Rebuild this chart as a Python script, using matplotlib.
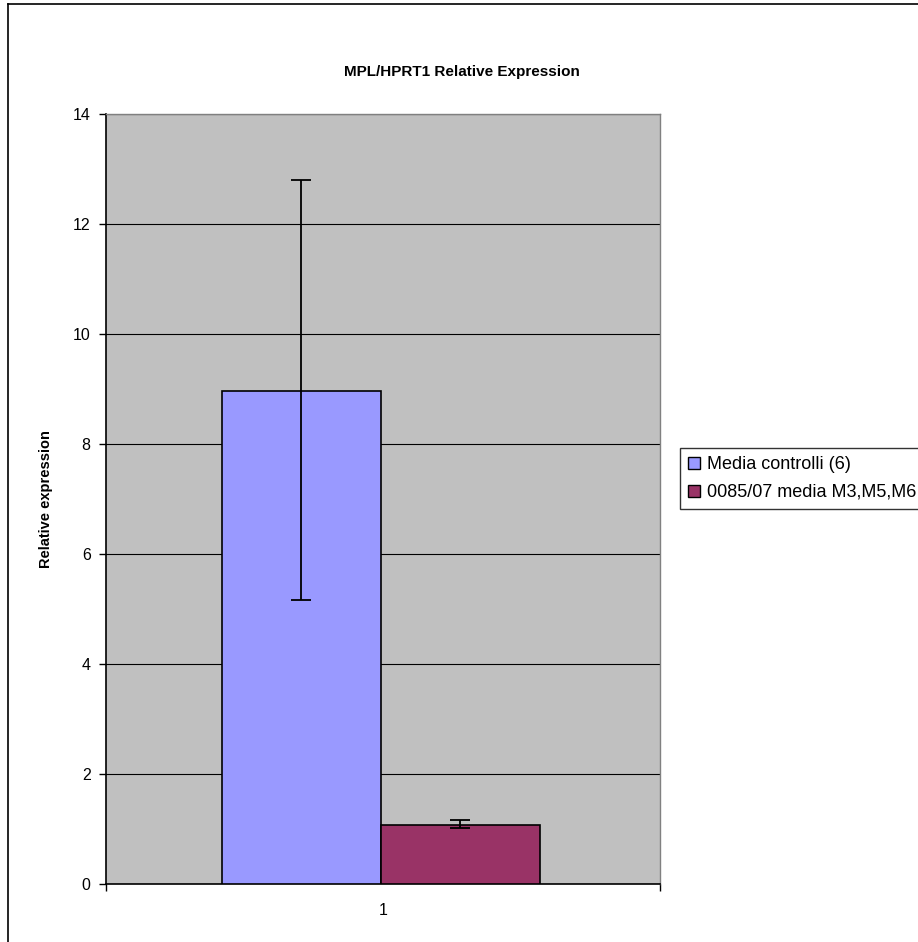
import numpy as np
import matplotlib.pyplot as plt
from matplotlib.patches import Patch
from matplotlib.lines import Line2D

plt.rcParams['font.family'] = ['Liberation Sans', 'DejaVu Sans']

# data
categories = ['1']
series_names = ['Media controlli (6)', '0085/07 media M3,M5,M6']
values = [8.97, 1.08]
err_low = [5.16, 1.01]
err_high = [12.80, 1.16]
colors = ['#9999FF', '#993366']

W, H = 918, 942
fig = plt.figure(figsize=(W / 100, H / 100), dpi=100)

# plot area in pixel coords
left, right, top, bottom = 106, 660, 114, 884
ax = fig.add_axes([left / W, 1 - bottom / H, (right - left) / W, (bottom - top) / H])
ax.set_facecolor('#C0C0C0')

width = 0.2875
shift = -0.004
offsets = [-width / 2 + shift, width / 2 + shift]
x = np.arange(1, len(categories) + 1)
for i in range(len(series_names)):
    v = values[i]
    yerr = [[v - err_low[i]], [err_high[i] - v]]
    ax.bar(x + offsets[i], [v], width, color=colors[i], edgecolor='black', linewidth=1.2,
           zorder=3)
    ax.errorbar(x + offsets[i], [v], yerr=yerr, fmt='none', ecolor='black',
                elinewidth=1.3, capsize=7, capthick=1.3, zorder=4)

ax.set_xlim(0.5, 1.5)
ax.set_ylim(0, 14)
ax.set_yticks(np.arange(0, 15, 2))
ax.yaxis.grid(True, color='black', linewidth=0.8, zorder=1)
ax.set_axisbelow(True)

ax.set_xticks([1])
ax.set_xticklabels(categories)
ax.set_xticks([0.5, 1.5], minor=True)
ax.tick_params(axis='x', which='major', length=0, labelsize=11.5, pad=14)
ax.tick_params(axis='x', which='minor', length=5, direction='out', width=1)
ax.tick_params(axis='y', length=5, direction='out', width=1, labelsize=11.5, pad=6)

for s in ['top', 'right']:
    ax.spines[s].set_color('#808080')
    ax.spines[s].set_linewidth(1)
for s in ['left', 'bottom']:
    ax.spines[s].set_color('black')
    ax.spines[s].set_linewidth(1.2)

ax.set_ylabel('Relative expression', fontsize=10.5, fontweight='bold', labelpad=14)
fig.text(462 / W, 1 - 72 / H, 'MPL/HPRT1 Relative Expression', ha='center', va='center',
         fontsize=11, fontweight='bold')

# legend (its right edge runs off the figure, as in the original)
handles = [Patch(facecolor=c, edgecolor='black', linewidth=1) for c in colors]
leg = fig.legend(handles, series_names, loc='upper left',
                 bbox_to_anchor=(680 / W, 1 - 448 / H), fontsize=13,
                 frameon=True, fancybox=False, edgecolor='black',
                 handlelength=0.65, handleheight=0.65, handletextpad=0.4,
                 borderpad=0.45, labelspacing=0.6, borderaxespad=0)
leg.get_frame().set_linewidth(1)

# outer chart border
fig.add_artist(Line2D([8 / W, 8 / W], [0, 1 - 4 / H], color='black', linewidth=1.2,
                      transform=fig.transFigure))
fig.add_artist(Line2D([8 / W, 1], [1 - 4 / H, 1 - 4 / H], color='black', linewidth=1.2,
                      transform=fig.transFigure))

fig.savefig('out.png', dpi=100)
